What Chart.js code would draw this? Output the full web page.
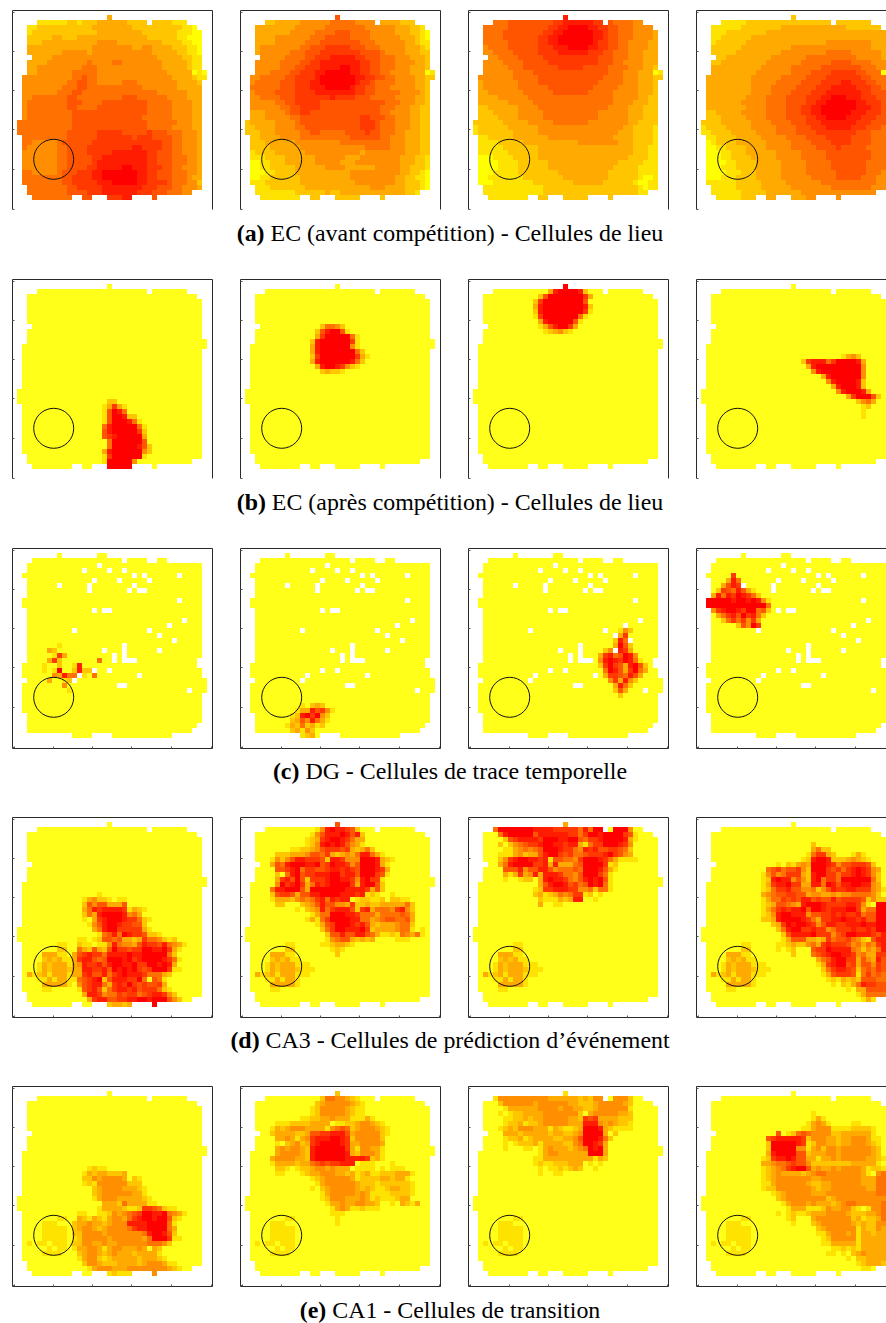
<!DOCTYPE html>
<html>
<head>
<meta charset="utf-8">
<script src="https://cdn.jsdelivr.net/npm/chart.js@4"></script>
<style>
html, body { margin: 0; padding: 0; background: #fff; overflow: hidden; width: 886px; height: 1323px; }
canvas { position: absolute; }
.cap { position: absolute; left: 0; width: 900px; text-align: center; font: 23.9px/26px "Liberation Serif", serif; color: #000; white-space: nowrap; }
</style>
</head>
<body>
<script>
// cell levels are 0 (yellow) to 9 (red)
// each entry of a panel: [row, first column, digits]
const gridSize = 40;
const captions = [
    ["(a)", " EC (avant compétition) - Cellules de lieu"],
    ["(b)", " EC (après compétition) - Cellules de lieu"],
    ["(c)", " DG - Cellules de trace temporelle"],
    ["(d)", " CA3 - Cellules de prédiction d’événement"],
    ["(e)", " CA1 - Cellules de transition"]
];
const tickValues = [0.3, 8.2, 16, 23.9, 31.8, 39.7];
const circleCol = 8.34;
const circleRow = 29.86;

// occupied area: [first row, last row, first col, last col]
const arenaMain = [[1,1,19,19],[2,2,5,26],[2,2,28,34],[3,3,3,36],[4,8,3,37],[9,9,4,37],[10,11,3,37],[12,12,3,38],[13,13,2,38],[14,21,2,37],[22,24,1,37],[25,34,2,37],[35,35,3,37],[36,36,3,35],[37,37,4,11],[37,37,14,15],[37,37,19,23],[37,37,28,28]];
const arenaDG = [[1,1,9,9],[1,1,17,18],[2,2,4,21],[2,2,23,26],[2,2,29,30],[3,4,3,37],[5,5,2,37],[6,9,3,37],[10,11,2,37],[12,21,3,37],[22,22,3,36],[23,23,2,36],[24,25,2,37],[26,26,3,38],[27,28,2,38],[29,32,2,37],[33,34,3,37],[35,35,3,36],[36,36,3,35],[37,37,12,15],[37,37,20,31]];
const holesDG = [[3,17],[4,14],[4,19],[4,22],[5,24],[5,26],[5,33],[6,16],[6,21],[6,27],[7,9],[7,15],[7,24],[8,15],[8,23],[8,25],[8,26],[10,33],[12,16],[12,18],[12,19],[14,34],[15,31],[16,12],[16,27],[17,29],[18,32],[19,22],[20,18],[20,22],[20,29],[21,20],[21,22],[22,20],[22,22],[22,23],[22,24],[24,16],[24,19],[25,13],[25,25],[26,12],[27,21],[27,22],[28,35]];

// (a) full rows, starting at row 1
const ecBefore1 = ["3333333333333333333333333333333333333333","1111111111122122233333322222222211100000","1111122222222222333333332222222222110000","1111222222222222233333333322222221110000","1112222233222333333333333332222221100000","1112223333333333344443333333332222110000","1113333333333333444444443344333322211000","1113333333444443444444444444333332211000","1113333344444444444444444444433333221100","2223333444444445444455444444443333321110","3333344444444455544444444444443333321100","3333344444445555544444444444444333330100","4444444444445565544444444444444433332111","4444444444455665544444555444444443333222","4444444444555665555555555544444443333333","4444444445556655555555555555544444433333","4444555555566555555555666555555444433333","4445555555566655556666666665555544443333","4445555555566555566666666665555544443333","4445555555556666666666666665555544443333","4445555555556666666666666655555544443333","5555555555556666666666666665555554443333","5555555555556666666666666665555544443333","5555555555566666677777666667666555444333","5555555555566666677777776777666655444333","5555444445666666777777777777776655444333","5554444445566667777777778877776655444333","5544444445566667777788888887766655444333","5544444445566666778888888887766655544333","5544444445566666788888888887766655544333","5544444445566667788888998887776655444333","5555444445666777889999999887766655544333","5555555555667777889999999887766655543333","5555555555667777788899999887777655544233","5555555555566777778888888877766655444333","5555555555566667778888888777666555444333","5555555555556666677777888777666555444333"];
const ecBefore2 = ["6666666666666666666666666666666666666666","2222222333334444445555544444333322211100","2223333333344444455555555444444333221100","2233333333444445555666555544444333221000","2233333444444455566666555544444433321000","2233333444444555666666665554444443321100","2233444444445566677777666555444443332110","2233444444555666777777776666544443332221","2234444445555667778888877666555444333221","3334444455556677888888887766555444433222","3344444455566777888899887766555444333222","3344445555667778899999887766554444333012","3444555556677778999999988776655444433222","4445555566677788999999987765555444433222","4455555566677788899999877665554444433222","4445555666677778888888877665555544443222","3444555566677777778777766655555444433222","3344444556677777666666666666655544433222","3344444455667777666666666666555444332221","3333344445667766666666666666554444332221","3333344444556666666666667766655444332221","2233333444456666666666667776555444332221","2223333444455666666666667776555444332211","2222333444445566555556666766555443332211","1222333344445555555555666666554443332211","1122233333344444444455555555554443332221","1122223333334444444444444555554443332221","0112222333333444444444443444444443332221","0011122223333334444443334444444433322111","0000112223333334444433344444444433322111","0000112222233333344443333334444433222111","0000011222233333333333444444444433221011","0000112222223333333333444444444332211011","1111122222223333333333344444444332221011","1111112222222333333333333344433332221000","1111111111122222232233333333333332211100","1111111111112222222222222222222222222222"];
const ecBefore3 = ["8888888888888888888888888888888888888888","5555555566666666677888888776655554444433","4555555566666666778899998877665554444333","4555555666666667788999999887665554444333","4455555666666677889999999887665554444333","4455555566666677889999999877665544443333","4444555566666677788899998877665544443333","4444455556666677778888887776655544433322","4444445555666667777777777766655544433322","3444444555566666777777777766655444433322","3344444455566666667777766666555544433222","3344444445555666666666666666555444333012","3344444445555566666666666665555444333222","3334444444555566666666666655555444333222","3334444444555555666666666555554444333222","3333444444455555566666665555544444333222","2333334444445555555555555555544444332221","2233333344444555555555555555544443332221","2222333333444455555555555555444433322211","2222233333444445555555555544444433322211","2222223333444445555555555544444433322211","1222222333334444455555554444444433222211","1122222233333344444444444444444332222111","1122222223333344444444444444443332222111","1111222223333333444444444444433332222111","1111112222233333333333444444443332222111","1111111222222233333333333333333332221111","1011111122222233333333333333333332221111","1000011112222233333333333333333322221111","0000001111222222333333333333332222211111","0000001111222222333333333333322222111111","0000011111222222223333333333222222111111","0000111111122222222333333333222222100111","0000011111111222222223333332222221001111","0111111111111112222222222222222222101111","1111111111111112222222222222222222111111","1111111111111122222222222222222222222222"];
const ecBefore4 = ["2222222222222222222222222222222222222222","1111111111222222222222222222222222222222","1111111112222222233333333333332222222222","1111112222222233333333333333333333333333","1111122222233333333333333333333333333322","1111222222333333333333333344444444433322","2222222223333333333444444444444444433332","2222222233333333344444444455555444444333","2222223333333334444444555555555544444333","2222233333333344444445555556666555544433","2223333333333444444555555666666665554433","2223333333334444444555566667777766555012","3333333333344444455555666677777776655544","3333333333344444555556666777788777665544","3333333333344445555566667778888877766554","3333333333344445555666677788888887766655","3333333333444455556666777889998887776655","2233333334444455556666778899999988777665","2233333333444455556667788999999988877665","2222333334444455556667788999999888777665","2222233333444455556666778899998887776665","1222233333344445555666777888888877766655","1122223333344444555566677788888777666555","1112222333334444555566667777777766655555","1111222233333444445555666677777666655555","1101222233333344444555566667777666655555","1000112222333344444555556666766666555555","1000011222333333444445555566666666655555","0000011222233333444445555566666666655555","0000001122223333344444555556666666555554","0000011122223333344444555556666666555554","0000001112223333344444555555666666555444","1000011122223333344444455555666665554444","1111111122222333334444444555555555554444","1111111122222333333444444445555555544444","1111111112222233333334444444444444444444","1111111112222233333333444444444444444444"];

// (b)
const ecAfter1 = [[24,19,"22"],[25,18,"13731"],[26,18,"169850"],[27,18,"1699822"],[28,18,"169998510"],[29,18,"589999951"],[30,18,"689999972"],[31,18,"678999993"],[32,18,"059999996"],[33,18,"0599999862"],[34,18,"3899999942"],[35,18,"1799999910"],[36,18,"19999940"],[37,19,"99999"]];
const ecAfter2 = [[9,16,"25542"],[10,15,"2689961"],[11,15,"379999951"],[12,14,"2899999971"],[13,14,"3899999941"],[14,14,"38999999952"],[15,14,"279999999731"],[16,14,"38999999852"],[17,15,"389987421"],[18,16,"23221"]];
const ecAfter3 = [[1,19,"9"],[2,16,"38999982"],[3,14,"26999999973"],[4,13,"27999999996"],[5,13,"389999999982"],[6,13,"289999999971"],[7,13,"17999999951"],[8,14,"389999961"],[9,14,"13689973"],[10,15,"123421"]];
const ecAfter4 = [[15,29,"1342"],[16,21,"2788857999983"],[17,22,"389999999994"],[18,23,"48999999994"],[19,25,"389999994"],[20,26,"48999982"],[21,27,"3899982"],[22,28,"4899983"],[23,30,"3799962"],[24,32,"2453"],[25,33,"12"],[26,33,"1"],[27,33,"1"]];

// (c)
const dgTrace1 = [[19,9,"1"],[20,7,"32"],[21,8,"173"],[22,7,"372"],[22,17,"5"],[23,6,"1"],[23,9,"2"],[23,12,"18"],[24,6,"1"],[24,8,"19"],[24,12,"2822"],[25,8,"43855"],[25,14,"1"],[25,16,"5"],[26,7,"3"],[26,9,"012"],[27,10,"4"],[28,11,"1"]];
const dgTrace2 = [[31,12,"10232"],[32,11,"13386741"],[33,10,"12897942"],[34,10,"23648531"],[35,9,"13252312"],[36,9,"023142"],[37,12,"123"]];
const dgTrace3 = [[15,31,"2"],[16,30,"142"],[17,30,"37"],[18,29,"2851"],[19,29,"3962"],[20,27,"245873"],[21,26,"37856984"],[22,26,"489879851"],[23,26,"2797638962"],[24,27,"598637953"],[25,27,"37765863"],[26,28,"473842"],[27,29,"3852"],[28,29,"263"],[29,30,"2"]];
const dgTrace4 = [[5,7,"7"],[6,6,"385"],[7,5,"36872"],[8,4,"27658631"],[9,3,"3858798752"],[10,2,"9999989989841"],[11,2,"9999999999995"],[12,3,"478998799562"],[13,4,"3578697852"],[14,5,"25757473"],[15,8,"26497"],[16,12,"8"]];

// (d) and (e) share the small field inside the circle
const circleCA3 = [[25,9,"11"],[26,9,"22"],[27,6,"333110"],[28,6,"232311"],[29,5,"132333111"],[30,5,"1323332111"],[31,3,"31231333111"],[32,5,"1131331"],[33,6,"333331"],[34,6,"11000"]];
const circleCA1 = [[26,9,"11"],[27,6,"111000"],[28,6,"111110"],[29,5,"0111110"],[30,5,"01111100"],[31,3,"101101110"],[32,5,"001011"],[33,6,"1111"]];

const ca3Event1 = [[15,17,"1"],[16,14,"134221011"],[17,13,"02646633360"],[18,13,"03587888871321"],[19,13,"02538999984530"],[20,13,"010378999877521"],[21,15,"146899877662"],[22,16,"3589977777310"],[23,17,"1568598776221000"],[24,13,"11012665633237554212"],[25,13,"2110114854436877685431"],[26,13,"532632697767799889731"],[27,12,"367877588889889999952"],[28,12,"3788656999897899998751"],[29,12,"3487786899889779989830"],[30,12,"3388778698989767999711"],[31,12,"33786685789888755532"],[32,12,"1567892688877950651"],[33,13,"4678853787976766730"],[34,13,"16786257887867775210"],[35,14,"38874557677567887420"],[36,15,"37886677889989996420"],[37,19,"23323"],[37,28,"9"]];
const ca3Event2 = [[1,19,"6"],[2,15,"1489887620"],[3,14,"146888986820"],[4,13,"1237899875330"],[5,11,"001248989864310"],[6,10,"112234677767323520"],[7,7,"2223334665732343588531"],[8,6,"1424688777628874449998321"],[9,6,"3658999889679887469998310"],[10,7,"667895776678878769998730"],[11,7,"205896778889978869997610"],[12,7,"3786962777899887489771"],[13,7,"4978973587899997389962"],[14,6,"58899963999999988887362"],[15,6,"2677636688999988878121001000"],[16,6,"13332454578587880122112022110"],[17,7,"22000234686644372232233333520"],[18,11,"1023485788862783555478420"],[19,13,"01355999887555355556530"],[20,13,"13157999988553456655630"],[21,14,"0136799987863233345520"],[22,16,"257998889723333455101"],[23,17,"26686688653112154351"],[24,17,"1456632323"],[24,31,"111"],[25,15,"01123321"],[26,18,"121"],[27,19,"2"],[28,18,"00"]];
const ca3Event3 = [[1,19,"3"],[2,5,"599999998888777775859990999400"],[3,6,"5899999688888877579989999761"],[4,6,"0267888879998899657789999831"],[5,6,"2024567789988788315779998740"],[6,5,"00113454569998775487866776520"],[7,6,"111342336899767556777897643"],[8,6,"2478998878166554799987531111"],[9,6,"3589999778383335699997120"],[10,7,"66684668864555659998631"],[11,7,"31373483888755469997510"],[12,7,"1001220389887546898961"],[13,13,"0368998675698951"],[14,13,"1277888774452551"],[15,13,"231235457712010"],[16,14,"211132388001"],[17,14,"30011000"]];
const ca3Event4 = [[5,23,"20"],[6,23,"3522"],[7,21,"01577320"],[7,31,"1310"],[8,18,"000128998222343210"],[9,16,"102134399987466777620"],[10,14,"567566742999767578987430"],[11,13,"14645777328997757789874202"],[12,13,"12898846428957759999995201"],[13,13,"1378897733885986889988430"],[14,13,"1257786644524687788777431"],[15,13,"3456677663443343445555420"],[16,13,"1355767688676686777762422"],[17,13,"12366543899987777887410999"],[18,13,"13578788969987888997355999"],[19,13,"12489988846677878778566999"],[20,13,"22389999875377889887866999"],[21,14,"0237989987468877888988999"],[22,16,"25899778774577787787999"],[23,17,"2688889777467998887688"],[24,17,"1366633237566754216888"],[25,15,"011232245378777645354787"],[26,16,"1012"],[26,23,"6779888854243589"],[27,19,"2"],[27,23,"5678998874533771"],[28,18,"00"],[28,23,"0356899773643865"],[29,24,"137899673664766"],[30,25,"25788762565767"],[31,25,"13677761575657"],[32,26,"1213232666557"],[33,26,"0102135877666"],[34,30,"103366667"],[35,32,"1355555"],[36,33,"1310"]];

const ca1Trans1 = [[16,14,"012110000"],[17,13,"01323322230"],[18,13,"02243444430210"],[19,13,"01214444442220"],[20,13,"000234444333210"],[21,15,"023444444331"],[22,16,"1344433333210"],[23,17,"03332533331100"],[24,13,"00001333321127765211"],[25,13,"1100112434567998895431"],[26,13,"321321344357899899621"],[27,12,"233433234448888999951"],[28,12,"2344323444457889999530"],[29,12,"2244443444444458998620"],[30,12,"1244444344444435999711"],[31,12,"22443343344444455542"],[32,12,"1334431344333430320"],[33,13,"234432343332333310"],[34,13,"13442123333323332100"],[35,14,"24432223333234443110"],[36,15,"13444333444444443210"],[37,19,"12111"],[37,28,"4"]];
const ca1Trans2 = [[1,19,"2"],[2,15,"0255443210"],[3,14,"023444443210"],[4,13,"0124444432110"],[5,11,"000124444432110"],[6,10,"001122334333111310"],[7,7,"11122223333011223443210"],[8,6,"1323444333314565234443210"],[9,6,"233332236677888634444421"],[10,7,"33431347888998724444420"],[11,7,"10234237899998733444430"],[12,7,"3434432899999973144331"],[13,7,"3444432899999983244431"],[14,6,"34444332899999988887231"],[15,6,"1333323356767788801110001000"],[16,6,"0221012234434333011110101110"],[17,7,"11000123344433231231122233310"],[18,13,"0123444443122223323310"],[19,14,"0134444443222122222210"],[20,13,"01023444443232112332210"],[21,14,"0013444443431111222210"],[22,16,"124443334312111233000"],[23,17,"13343344332001032130"],[24,17,"01343112111"],[25,16,"0011100"],[26,18,"010"],[27,19,"1"]];
const ca1Trans3 = [[1,19,"1"],[2,5,"144444444443333332324440444200"],[3,6,"2444444344444433222344444320"],[4,7,"133333344443443322344444410"],[5,6,"1012233334444444203444443320"],[6,5,"00112232334444433276733332220"],[7,6,"012231223444443338884343221"],[8,6,"123244433313211239998321111"],[9,7,"333233333233223499993020"],[10,7,"12231233332233469998520"],[11,7,"10122231333322459987300"],[12,7,"1000110134333234598930"],[13,13,"0134433333399930"],[14,13,"1133333333331320"],[15,13,"121122233301010"],[16,14,"101121232001"],[17,14,"10011000"]];
const ca1Trans4 = [[5,23,"10"],[6,23,"1310"],[7,21,"01343100"],[7,31,"110"],[8,18,"0001134441111222210"],[9,16,"601256544442233333310"],[10,14,"678888872444332334443110"],[11,13,"02999998712443323344432101"],[12,13,"02999994413424434444443201"],[13,13,"0389999662333443444444320"],[14,13,"1278898663313343444443321"],[15,12,"03345567664222222223333310"],[16,13,"1234578996343343444431221"],[17,13,"12343333234554444444310455"],[18,13,"12344444443344444444333555"],[19,13,"11344444432233444444333555"],[20,13,"12244444443233444444433555"],[21,14,"0123444443334444444444555"],[22,16,"234444444423444444444455"],[23,17,"1344434333234554444455"],[24,17,"0133311124334421014455"],[25,15,"010121123334444322233455"],[26,18,"12"],[26,23,"3444444423122356"],[27,19,"1"],[27,23,"2344444432322440"],[28,18,"00"],[28,23,"0234444441322433"],[29,24,"113444341332333"],[30,25,"12444441333333"],[31,25,"11333331333333"],[32,26,"0112121333333"],[33,26,"1101023433333"],[34,30,"102233333"],[35,32,"1233322"],[36,33,"110"]];

const fullRows = (rows) => rows.map((s, i) => [i + 1, 0, s]);

const panelRows = [
    { top: 10, bottom: false, zero: "rgb(255,255,0)", arena: arenaMain, holes: [], panels: [fullRows(ecBefore1), fullRows(ecBefore2), fullRows(ecBefore3), fullRows(ecBefore4)] },
    { top: 279, bottom: false, zero: "rgb(255,255,26)", arena: arenaMain, holes: [], panels: [ecAfter1, ecAfter2, ecAfter3, ecAfter4] },
    { top: 548, bottom: true, zero: "rgb(255,255,26)", arena: arenaDG, holes: holesDG, panels: [dgTrace1, dgTrace2, dgTrace3, dgTrace4] },
    { top: 817, bottom: true, zero: "rgb(255,255,26)", arena: arenaMain, holes: [], panels: [ca3Event1, ca3Event2, ca3Event3, ca3Event4].map(p => circleCA3.concat(p)) },
    { top: 1086, bottom: true, zero: "rgb(255,255,26)", arena: arenaMain, holes: [], panels: [ca1Trans1, ca1Trans2, ca1Trans3, ca1Trans4].map(p => circleCA1.concat(p)) }
];
const panelLefts = [12, 240, 468, 696];
const captionTops = [220, 489, 758, 1027, 1297];

const levelColor = (v, zero) => v === 0 ? zero : "rgb(255," + Math.round(255 * (1 - v / 9)) + ",0)";

// turn arena + patches into one point per occupied cell
const buildCells = (arena, holes, patches) => {
    const levels = {};
    arena.forEach(([r0, r1, c0, c1]) => {
        for (let r = r0; r <= r1; r++) {
            for (let c = c0; c <= c1; c++) levels[r + "," + c] = 0;
        }
    });
    holes.forEach(([r, c]) => { delete levels[r + "," + c]; });
    patches.forEach(([r, c0, digits]) => {
        digits.split("").forEach((d, i) => {
            const key = r + "," + (c0 + i);
            if (key in levels) levels[key] = Number(d);
        });
    });
    return Object.keys(levels).map((key) => {
        const [r, c] = key.split(",").map(Number);
        return { x: c + 0.5, y: r + 0.5, v: levels[key] };
    });
};

// box and small inward ticks, the original has them on the inside
const framePlugin = {
    id: "frame",
    afterDatasetsDraw(chart, args, opts) {
        const { ctx, chartArea: a, scales } = chart;
        const left = a.left + 0.5, top = a.top + 0.5, right = a.right + 0.5;
        const bottomY = opts.bottom ? a.bottom + 0.5 : a.bottom - 0.5;
        ctx.save();
        ctx.strokeStyle = "#2a2a2a";
        ctx.lineWidth = 1;
        ctx.beginPath();
        ctx.moveTo(left, bottomY);
        ctx.lineTo(left, top);
        ctx.lineTo(right, top);
        ctx.lineTo(right, bottomY);
        if (opts.bottom) ctx.lineTo(left, bottomY);
        ctx.stroke();
        ctx.strokeStyle = "#555";
        ctx.beginPath();
        tickValues.forEach((t) => {
            const y = Math.round(scales.y.getPixelForValue(t)) + 0.5;
            ctx.moveTo(left, y);
            ctx.lineTo(left + 2, y);
            if (opts.bottom) {
                const x = Math.round(scales.x.getPixelForValue(t)) + 0.5;
                ctx.moveTo(x, bottomY);
                ctx.lineTo(x, bottomY - 2);
            }
        });
        ctx.stroke();
        ctx.restore();
    }
};

panelRows.forEach((row) => {
    row.panels.forEach((patches, i) => {
        const canvas = document.createElement("canvas");
        canvas.width = 205;
        canvas.height = 205;
        canvas.style.left = (panelLefts[i] - 2) + "px";
        canvas.style.top = (row.top - 2) + "px";
        document.body.appendChild(canvas);
        new Chart(canvas, {
            type: "scatter",
            data: {
                datasets: [
                    {
                        data: [{ x: circleCol, y: circleRow }],
                        pointStyle: "circle",
                        pointRadius: 20,
                        pointBackgroundColor: "rgba(0,0,0,0)",
                        pointBorderColor: "#111",
                        pointBorderWidth: 1,
                        order: 0
                    },
                    {
                        data: buildCells(row.arena, row.holes, patches),
                        pointStyle: "rect",
                        pointRadius: 3.5356,
                        pointBorderWidth: 0,
                        pointBackgroundColor: (c) => levelColor(c.raw.v, row.zero),
                        order: 1
                    }
                ]
            },
            options: {
                responsive: false,
                animation: false,
                events: [],
                layout: { padding: { left: 2, top: 2, right: 3, bottom: 3 }, autoPadding: false },
                plugins: { legend: { display: false }, tooltip: { enabled: false }, frame: { bottom: row.bottom } },
                scales: {
                    x: { type: "linear", min: 0, max: gridSize, display: false },
                    y: { type: "linear", min: 0, max: gridSize, reverse: true, display: false }
                }
            },
            plugins: [framePlugin]
        });
    });
});

captions.forEach(([tag, text], i) => {
    const div = document.createElement("div");
    div.className = "cap";
    div.style.top = captionTops[i] + "px";
    const b = document.createElement("b");
    b.textContent = tag;
    div.appendChild(b);
    div.appendChild(document.createTextNode(text));
    document.body.appendChild(div);
});
</script>
</body>
</html>
